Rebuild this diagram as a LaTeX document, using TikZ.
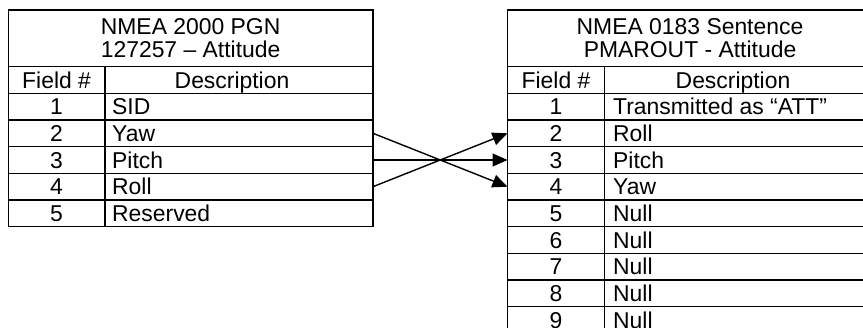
\documentclass[tikz,border=0pt]{standalone}
\usepackage{fontspec}
\setmainfont{Liberation Sans}
\usetikzlibrary{arrows.meta}
\begin{document}
\begin{tikzpicture}[x=1pt,y=-1pt,line width=1.4pt,
  cell/.style={font=\fontsize{22.9}{23.3}\selectfont,inner sep=0pt,text height=16.4pt,text depth=0pt,anchor=center},
  lcell/.style={cell,anchor=west},
  head/.style={font=\fontsize{22.9}{23.3}\selectfont,inner sep=0pt,align=center,anchor=center},
  arr/.style={line width=1.4pt,-{Triangle[length=15pt,width=13pt]}}]
\useasboundingbox (0,0) rectangle (863,328);
\begin{scope}
\clip (0,0) rectangle (863,328);
% ---------- left table grid ----------
\draw (8.3,10) rectangle (373,226.7);
\foreach \y in {66.7,93.3,120,146.7,173.3,200}
  \draw (8.3,\y) -- (373,\y);
\draw (105,66.7) -- (105,226.7);
% ---------- right table grid ----------
\draw (507.5,340) -- (507.5,10) -- (872,10) -- (872,340);
\foreach \y in {66.7,93.3,120,146.7,173.3,200,226.7,253.3,280,306.7}
  \draw (507.5,\y) -- (872,\y);
\draw (604.3,66.7) -- (604.3,340);
\end{scope}
% ---------- left table text ----------
\node[head] (lh) at (190.6,38.3) {NMEA 2000 PGN\\127257 – Attitude};
\node[cell] (lf) at (56.6,80) {Field \#};
\node[cell] (ld) at (232,80) {Description};
\foreach \i/\t in {1/SID,2/Yaw,3/Pitch,4/Roll,5/Reserved}{
  \node[cell] (ln\i) at (56.6,80+26.67*\i) {\i};
  \node[lcell] (lt\i) at (111.5,80+26.67*\i) {\t};
}
% ---------- right table text ----------
\node[head] (rh) at (690,38.3) {NMEA 0183 Sentence\\PMAROUT - Attitude};
\node[cell] (rf) at (556,80) {Field \#};
\node[cell] (rd) at (733,80) {Description};
\foreach \i/\t in {1/Transmitted as “ATT”,2/Roll,3/Pitch,4/Yaw,5/Null,6/Null,7/Null,8/Null,9/Null}{
  \node[cell] (rn\i) at (556,80+26.67*\i) {\i};
  \node[lcell] (rt\i) at (612.5,80+26.67*\i) {\t};
}
% ---------- connectors ----------
\coordinate (L2) at (373,133.3);
\coordinate (L3) at (373,160);
\coordinate (L4) at (373,186.7);
\coordinate (R2) at (507.5,133.3);
\coordinate (R3) at (507.5,160);
\coordinate (R4) at (507.5,186.7);
\draw[arr] (L2) -- (R4);
\draw[arr] (L3) -- (R3);
\draw[arr] (L4) -- (R2);
\end{tikzpicture}
\end{document}
